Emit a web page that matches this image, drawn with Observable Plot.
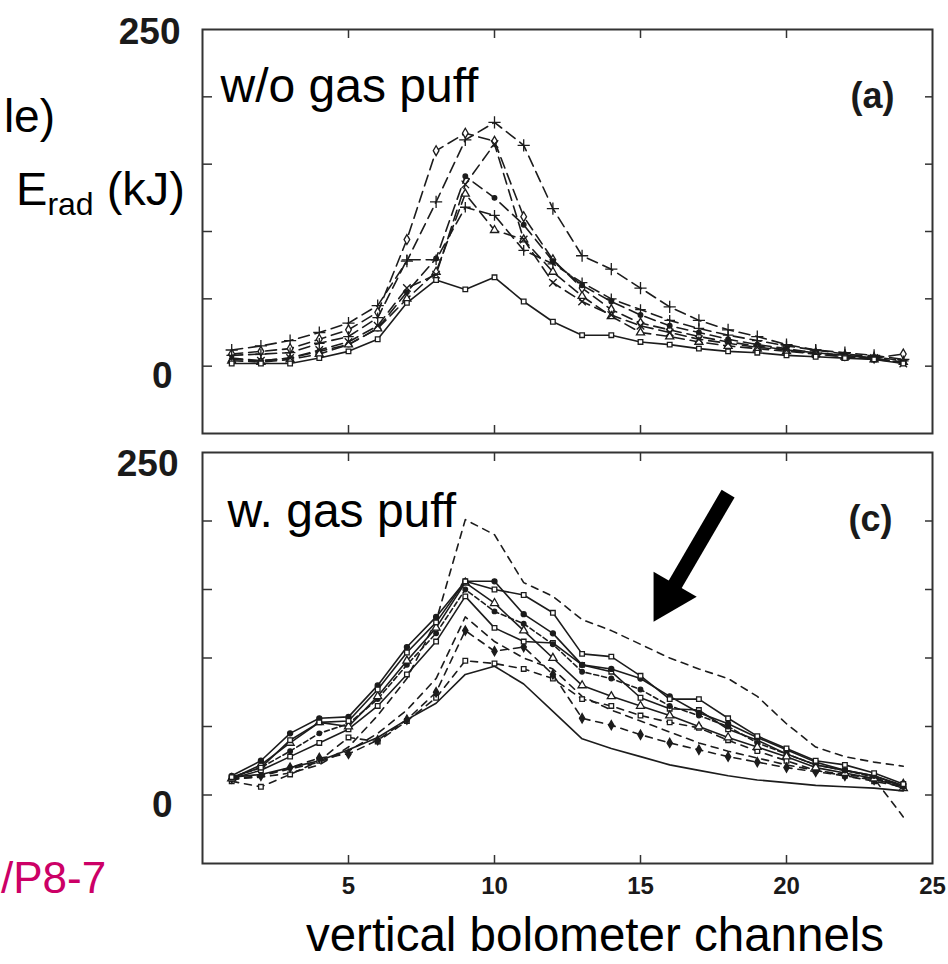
<!DOCTYPE html>
<html><head><meta charset="utf-8">
<script src="https://cdn.jsdelivr.net/npm/d3@7"></script>
<script src="https://cdn.jsdelivr.net/npm/@observablehq/plot@0.6"></script>
<style>
html,body{margin:0;padding:0;background:#fff;}
#wrap{position:relative;width:948px;height:964px;overflow:hidden;font-family:"Liberation Sans",Arial,sans-serif;background:#fff;}
#pa,#pc,#ov{position:absolute;left:0;}
#pa{top:0}#pc{top:440px}#ov{top:0;pointer-events:none}
</style></head><body>
<div id="wrap"><div id="pa"></div><div id="pc"></div><svg id="ov" width="948" height="964"></svg></div>
<script>
// ---------- data ----------
const channels = [1,2,3,4,5,6,7,8,9,10,11,12,13,14,15,16,17,18,19,20,21,22,23,24];
const yTickValues = [0, 50, 100, 150, 200];
const yLabelTop = [250];
const yLabelZero = [0];
const xTickValues = [5, 10, 15, 20];
const xLabelValues = [5, 10, 15, 20, 25];

// panel (a): without gas puff
const a_square  = [2,2,2,6,11,20,47,64,57,66,48,33,23,23,18,16,13,11,10,8,7,6,5,2];
const a_plus    = [12,15,19,25,32,45,78,122,168,181,164,117,82,72,58,44,34,27,22,16,12,10,8,5];
const a_diamond = [9,11,13,20,27,40,94,160,173,167,111,79,58,42,32,27,22,18,15,12,10,8,6,9];
const a_dot     = [5,4,6,11,16,28,55,80,141,125,105,78,60,48,38,30,25,20,16,13,10,8,6,3];
const a_tri     = [4,3,5,9,16,28,50,70,128,101,94,70,52,37,25,22,18,15,13,11,9,7,5,3];
const a_cross   = [8,9,10,17,22,36,79,79,118,112,86,76,62,50,42,34,28,23,19,15,12,9,7,4];
const a_times   = [6,4,6,12,18,30,58,68,135,165,94,62,48,38,30,25,20,17,14,12,9,7,6,2];

// panel (c): with gas puff
const c_dashTop  = [12,13,16,22,35,58,85,127,201,190,155,145,128,120,110,100,92,85,72,52,35,28,24,21];
const c_square1  = [13,20,40,53,54,77,104,126,156,150,146,133,103,101,87,70,70,56,43,34,25,22,16,8];
const c_filled1  = [14,25,45,56,57,80,108,130,156,156,132,118,95,92,85,72,60,52,42,33,24,18,14,6];
const c_triangle = [12,22,38,53,50,72,98,122,155,140,120,100,80,72,65,58,50,42,35,28,20,16,12,5];
const c_filled2  = [13,20,32,45,52,70,95,118,150,134,125,110,90,85,77,65,58,50,38,30,22,18,13,5];
const c_square2  = [12,18,28,38,48,65,88,112,145,122,112,111,95,90,71,63,62,48,40,30,22,18,14,7];
const c_dashMid  = [11,14,19,24,32,45,62,85,130,112,100,92,72,62,54,46,38,32,27,22,18,15,12,-16];
const c_diamond  = [12,14,20,27,30,40,55,75,120,105,108,88,56,51,44,38,33,28,24,20,17,14,11,8];
const c_square3  = [10,6,15,25,42,39,54,71,98,96,92,85,70,65,58,53,49,40,32,25,18,14,10,6];
const c_solidLow = [13,15,20,25,33,42,55,67,88,94,81,61,41,34,28,22,18,14,11,9,7,6,5,3];

// arrow annotation (data coordinates of panel c): tail -> head
const arrowX = [18.0, 15.94];
const arrowY = [220, 144.7];

// ---------- styles ----------
const FONT = '"Liberation Sans", Arial, sans-serif';
const INK = "#1c1c1c";
const LONG = "11,6", SHORT = "7,6";
const seriesA = [
  {values: a_plus,    dash: LONG, symbol: "plus",     fill: "none",  r: 4},
  {values: a_diamond, dash: LONG, symbol: "diamond",  fill: "white", r: 3},
  {values: a_dot,     dash: LONG, symbol: "circle",   fill: INK,     r: 2.3},
  {values: a_tri,     dash: LONG, symbol: "triangle", fill: "white", r: 3},
  {values: a_cross,   dash: LONG, symbol: "plus",     fill: "none",  r: 3.5},
  {values: a_times,   dash: LONG, symbol: "times",    fill: "none",  r: 3.5},
  {values: a_square,  dash: null, symbol: "square",   fill: "white", r: 2.6}
];
const seriesC = [
  {values: c_dashTop,  dash: SHORT, symbol: null},
  {values: c_solidLow, dash: null,  symbol: null},
  {values: c_dashMid,  dash: SHORT, symbol: null},
  {values: c_square3,  dash: SHORT, symbol: "square",   fill: "white", r: 2.6},
  {values: c_diamond,  dash: SHORT, symbol: "diamond",  fill: INK,     r: 2.8},
  {values: c_square2,  dash: null,  symbol: "square",   fill: "white", r: 2.6},
  {values: c_filled2,  dash: "5,3", symbol: "circle",   fill: INK,     r: 2.3},
  {values: c_triangle, dash: null,  symbol: "triangle", fill: "white", r: 3},
  {values: c_filled1,  dash: null,  symbol: "circle",   fill: INK,     r: 2.5},
  {values: c_square1,  dash: null,  symbol: "square",   fill: "white", r: 2.6}
];

function seriesMarks(list) {
  const marks = [];
  for (const s of list) {
    const data = channels.map((c, i) => ({c, v: s.values[i]}));
    marks.push(Plot.line(data, {x: "c", y: "v", stroke: INK, strokeWidth: 1.6, strokeDasharray: s.dash}));
    if (s.symbol) marks.push(Plot.dot(data, {x: "c", y: "v", symbol: s.symbol, r: s.r, fill: s.fill, stroke: INK, strokeWidth: 1.3}));
  }
  return marks;
}

function frameMarks() {
  return [
    Plot.axisX(xTickValues, {anchor: "bottom", tickSize: -8, fill: "none", label: null, stroke: "#333", strokeWidth: 1.5}),
    Plot.axisX(xTickValues, {anchor: "top", tickSize: -8, fill: "none", label: null, stroke: "#333", strokeWidth: 1.5}),
    Plot.axisY(yTickValues, {anchor: "left", tickSize: -10, fill: "none", label: null, stroke: "#333", strokeWidth: 1.5}),
    Plot.axisY(yTickValues, {anchor: "right", tickSize: -8, fill: "none", label: null, stroke: "#333", strokeWidth: 1.5}),
    Plot.frame({stroke: "#333", strokeWidth: 2})
  ];
}

function yLabels(dyTop, dxTop, dyZero, dxZero) {
  const common = {frameAnchor: "left", textAnchor: "end", fontSize: 37, fontWeight: "bold", fill: "#1a1a1a"};
  return [
    Plot.text(yLabelTop, {...common, y: d => d, text: d => String(d), dx: dxTop, dy: dyTop}),
    Plot.text(yLabelZero, {...common, y: d => d, text: d => String(d), dx: dxZero, dy: dyZero})
  ];
}

// ---------- panel (a) ----------
const plotA = Plot.plot({
  width: 948, height: 445,
  marginTop: 29, marginBottom: 12, marginLeft: 202, marginRight: 16,
  x: {domain: [0, 25], axis: null},
  y: {domain: [-50, 250], axis: null},
  style: {fontFamily: FONT, background: "white", overflow: "visible"},
  marks: [
    ...seriesMarks(seriesA),
    ...frameMarks(),
    ...yLabels(2.5, -22, 10, -30),
    Plot.text(["w/o gas puff"], {frameAnchor: "top-left", textAnchor: "start", dx: 18, dy: 38.6, fontSize: 48, fill: "#000"}),
    Plot.text(["(a)"], {frameAnchor: "top-right", textAnchor: "end", dx: -38, dy: 52.5, fontSize: 36, fontWeight: "bold", fill: "#1a1a1a"})
  ]
});
document.getElementById("pa").appendChild(plotA);

// ---------- panel (c) ----------
const arrow = [{x1: arrowX[0], y1: arrowY[0], x2: arrowX[1], y2: arrowY[1]}];
const plotC = Plot.plot({
  width: 948, height: 524,
  marginTop: 12, marginBottom: 101, marginLeft: 202, marginRight: 16,
  x: {domain: [0, 25], axis: null},
  y: {domain: [-50, 250], axis: null},
  style: {fontFamily: FONT, background: "white", overflow: "visible"},
  marks: [
    ...seriesMarks(seriesC),
    ...frameMarks(),
    ...yLabels(12, -24, 10, -30),
    Plot.text(xLabelValues, {x: d => d, text: d => String(d), frameAnchor: "bottom", dy: 30, fontSize: 24, fontWeight: "bold", fill: "#1a1a1a"}),
    Plot.text(["w. gas puff"], {frameAnchor: "top-left", textAnchor: "start", dx: 25, dy: 40.6, fontSize: 48, fill: "#000"}),
    Plot.text(["(c)"], {frameAnchor: "top-right", textAnchor: "end", dx: -40, dy: 52.5, fontSize: 36, fontWeight: "bold", fill: "#1a1a1a"}),
    Plot.link(arrow, {x1: "x1", y1: "y1", x2: "x2", y2: "y2", stroke: "#000", strokeWidth: 15}),
    Plot.dot(arrow, {x: "x2", y: "y2", symbol: "triangle", r: 18.5, rotate: 210, fill: "#000", stroke: "none"})
  ]
});
document.getElementById("pc").appendChild(plotC);

// ---------- free-standing labels ----------
const ov = d3.select("#ov").style("font-family", FONT);
ov.append("text").attr("x", 55).attr("y", 132).attr("text-anchor", "end").attr("font-size", 46).attr("fill", "#000").text("le)");
const e = ov.append("text").attr("x", 185).attr("y", 205).attr("text-anchor", "end").attr("font-size", 47).attr("fill", "#000").style("white-space", "pre");
e.append("tspan").text("E");
e.append("tspan").attr("font-size", 32).attr("dy", 10).text("rad");
e.append("tspan").attr("dy", -10).text(" (kJ)");
ov.append("text").attr("x", 1).attr("y", 893).attr("text-anchor", "start").attr("font-size", 44).attr("fill", "#cc0066").text("/P8-7");
ov.append("text").attr("x", 595).attr("y", 951).attr("text-anchor", "middle").attr("font-size", 47.5).attr("fill", "#000").text("vertical bolometer channels");
</script>
</body></html>
